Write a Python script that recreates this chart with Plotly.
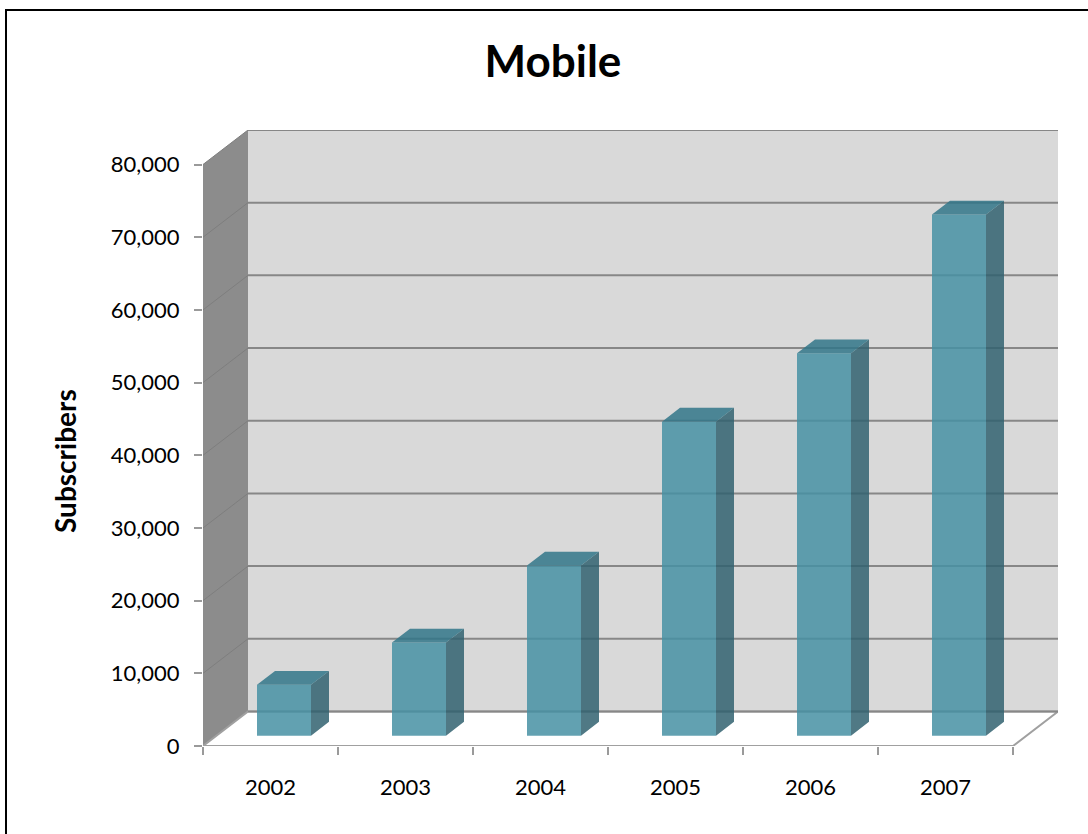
import plotly.graph_objects as go

# Mobile subscribers per year
years = ["2002", "2003", "2004", "2005", "2006", "2007"]
subscribers = [7000, 12800, 23400, 43200, 52600, 71700]
y_ticks = [0, 10000, 20000, 30000, 40000, 50000, 60000, 70000, 80000]

FONT = "Lato"
Y_MAX = 80000
# oblique depth vector of the 3-D box (x in category units, y in value units)
DX = 1.0 / 3.0
DY = 4750.0
N = len(years)
# bars occupy 40% of the slot width and 40% of the depth
B0, B1 = 0.3, 0.7
D0, D1 = 0.3, 0.7

fig = go.Figure()

# front faces of the columns
fig.add_trace(go.Bar(
    x=[i + 0.5 + D0 * DX for i in range(N)],
    y=subscribers,
    base=[D0 * DY] * N,
    width=B1 - B0,
    marker=dict(color="rgba(70,144,163,0.85)", line=dict(width=0)),
    xaxis="x2", yaxis="y",
    hoverinfo="skip", showlegend=False,
))

# top and right-hand faces of the columns
top_x, top_y, side_x, side_y = [], [], [], []
dd = (D1 - D0)
for i, v in enumerate(subscribers):
    x0 = i + B0 + D0 * DX
    x1 = i + B1 + D0 * DX
    base = D0 * DY
    top = v + D0 * DY
    top_x += [x0, x1, x1 + dd * DX, x0 + dd * DX, x0, None]
    top_y += [top, top, top + dd * DY, top + dd * DY, top, None]
    side_x += [x1, x1 + dd * DX, x1 + dd * DX, x1, x1, None]
    side_y += [base, base + dd * DY, top + dd * DY, top, base, None]

fig.add_trace(go.Scatter(
    x=side_x, y=side_y, mode="lines", fill="toself",
    fillcolor="rgba(49,98,112,0.85)", line=dict(width=0),
    xaxis="x2", yaxis="y", hoverinfo="skip", showlegend=False,
))
fig.add_trace(go.Scatter(
    x=top_x, y=top_y, mode="lines", fill="toself",
    fillcolor="rgba(49,117,136,0.85)", line=dict(width=0),
    xaxis="x2", yaxis="y", hoverinfo="skip", showlegend=False,
))

# walls, floor and gridlines of the 3-D box
shapes = [
    dict(type="rect", xref="x", yref="y", x0=DX, x1=N + DX, y0=DY, y1=Y_MAX + DY,
         fillcolor="#d9d9d9", line=dict(width=0), layer="below"),
    dict(type="path", xref="x", yref="y",
         path=f"M 0,0 L {DX},{DY} L {DX},{Y_MAX + DY} L 0,{Y_MAX} Z",
         fillcolor="#8c8c8c", line=dict(width=0), layer="below"),
    dict(type="path", xref="x", yref="y",
         path=f"M 0,0 L {N},0 L {N + DX},{DY} L {DX},{DY} Z",
         fillcolor="white", line=dict(color="#a0a0a0", width=2), layer="below"),
]
for v in y_ticks:
    shapes.append(dict(type="line", xref="x", yref="y", x0=DX, x1=N + DX,
                       y0=v + DY, y1=v + DY, line=dict(color="#878787", width=2),
                       layer="below"))
    if v > 0:
        shapes.append(dict(type="line", xref="x", yref="y", x0=0, x1=DX,
                           y0=v, y1=v + DY, line=dict(color="#7e7e7e", width=1),
                           layer="below"))

# outer chart frame
W, H = 1088, 834
ML, MR, MT, MB = 203, 30, 130, 88
pw, ph = W - ML - MR, H - MT - MB
shapes.append(dict(type="rect", xref="paper", yref="paper",
                   x0=(6 - ML) / pw, x1=(W + 4 - ML) / pw,
                   y0=(H - MB - (H + 4)) / ph, y1=(H - MB - 10) / ph,
                   line=dict(color="black", width=2), fillcolor="rgba(0,0,0,0)",
                   layer="above"))

x_range = [0, N + DX]
fig.update_layout(
    width=W, height=H,
    margin=dict(l=ML, r=MR, t=MT, b=MB, pad=0),
    paper_bgcolor="white", plot_bgcolor="white",
    font=dict(family=FONT, color="black", size=22),
    title=dict(text="Mobile", font=dict(family=FONT, size=44, weight="bold", color="black"),
               x=553 / W, xref="container", xanchor="center",
               y=1 - 62 / H, yref="container", yanchor="middle"),
    xaxis=dict(range=x_range, tickvals=list(range(N + 1)), ticktext=[""] * (N + 1),
               ticks="outside", ticklen=8, tickwidth=2, tickcolor="#9a9a9a",
               showgrid=False, zeroline=False, showline=False, fixedrange=True),
    xaxis2=dict(range=x_range, overlaying="x", anchor="y", side="bottom",
                tickvals=[i + 0.5 for i in range(N)], ticktext=years,
                ticks="", ticklabelstandoff=26, tickfont=dict(size=22),
                showgrid=False, zeroline=False, showline=False, fixedrange=True),
    yaxis=dict(range=[0, Y_MAX + DY], tickvals=y_ticks, tickformat=",",
               ticks="outside", ticklen=8, tickwidth=2, tickcolor="#9a9a9a",
               ticklabelstandoff=10, tickfont=dict(size=22),
               showgrid=False, zeroline=False, showline=False, fixedrange=True),
    shapes=shapes,
    annotations=[dict(text="Subscribers", xref="paper", yref="paper",
                      x=(65 - ML) / pw, y=(H - MB - 461) / ph,
                      xanchor="center", yanchor="middle", textangle=-90,
                      showarrow=False,
                      font=dict(family=FONT, size=28, weight="bold", color="black"))],
)

fig.write_html("out.html")
